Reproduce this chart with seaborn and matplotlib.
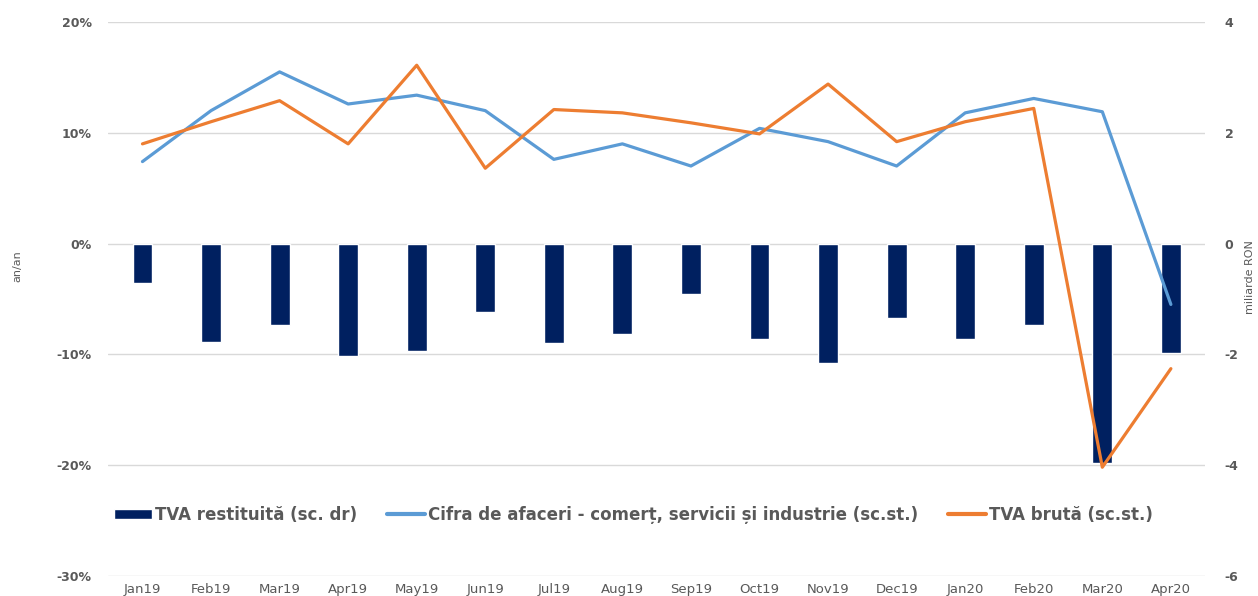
import matplotlib
matplotlib.use("Agg")
import matplotlib.pyplot as plt
from matplotlib.lines import Line2D
from matplotlib.patches import Patch
import seaborn as sns
import pandas as pd

# ------------------------------
# Data
# ------------------------------
months = ["Jan19", "Feb19", "Mar19", "Apr19", "May19", "Jun19", "Jul19", "Aug19",
          "Sep19", "Oct19", "Nov19", "Dec19", "Jan20", "Feb20", "Mar20", "Apr20"]

# TVA restituita, miliarde RON (right scale)
tva_restituita = [-0.72, -1.77, -1.48, -2.04, -1.95, -1.23, -1.79, -1.63,
                  -0.92, -1.73, -2.16, -1.34, -1.72, -1.48, -3.97, -1.98]

# Cifra de afaceri, % an/an (left scale)
cifra_afaceri = [7.4, 12.0, 15.5, 12.6, 13.4, 12.0, 7.6, 9.0,
                 7.0, 10.4, 9.2, 7.0, 11.8, 13.1, 11.9, -5.5]

# TVA bruta, % an/an (left scale)
tva_bruta = [9.0, 11.0, 12.9, 9.0, 16.1, 6.8, 12.1, 11.8,
             10.9, 9.9, 14.4, 9.2, 11.0, 12.2, -20.2, -11.3]

left_ticks = [-30, -20, -10, 0, 10, 20]
right_ticks = [-6, -4, -2, 0, 2, 4]

label_bar = "TVA restituită (sc. dr)"
label_cifra = "Cifra de afaceri - comerț, servicii și industrie (sc.st.)"
label_bruta = "TVA brută (sc.st.)"

NAVY = "#002060"
BLUE = "#5B9BD5"
ORANGE = "#ED7D31"
GREY = "#595959"

# ------------------------------
# Plot
# ------------------------------
sns.set_style("white")
plt.rcParams["font.family"] = ["DejaVu Sans"]

fig = plt.figure(figsize=(12.58, 5.96), dpi=100)
ax = fig.add_axes([0.086, 0.034, 0.872, 0.929])
ax2 = ax.twinx()

bars = pd.DataFrame({"month": months, "value": tva_restituita})
sns.barplot(data=bars, x="month", y="value", color=NAVY, width=0.29,
            saturation=1, ax=ax2)

lines = pd.DataFrame({"month": months + months,
                      "value": cifra_afaceri + tva_bruta,
                      "series": [label_cifra] * len(months) + [label_bruta] * len(months)})
sns.lineplot(data=lines, x="month", y="value", hue="series", sort=False,
             palette={label_cifra: BLUE, label_bruta: ORANGE},
             linewidth=2.3, legend=False, ax=ax)

# lines above bars
ax.set_zorder(ax2.get_zorder() + 1)
ax.patch.set_visible(False)

ax.set_xlim(-0.5, len(months) - 0.5)
ax.set_ylim(-30, 20)
ax2.set_ylim(-6, 4)
ax.set_yticks(left_ticks)
ax.set_yticklabels([f"{t}%" for t in left_ticks], fontsize=9, fontweight="bold", color=GREY)
ax2.set_yticks(right_ticks)
ax2.set_yticklabels([str(t) for t in right_ticks], fontsize=9, fontweight="bold", color=GREY)

# gridlines on the bar axis so bars sit on top of them
ax.yaxis.grid(False)
ax.xaxis.grid(False)
ax2.set_axisbelow(True)
ax2.yaxis.grid(True, color="#D9D9D9", linewidth=1)
ax2.xaxis.grid(False)
ax.set_xlabel("")
ax2.set_xlabel("")
ax.set_ylabel("an/an", fontsize=8, color=GREY)
ax.yaxis.set_label_coords(-0.078, 0.56)
ax2.set_ylabel("miliarde RON", fontsize=8, color=GREY)
ax2.yaxis.set_label_coords(1.036, 0.54)

for a in (ax, ax2):
    for s in a.spines.values():
        s.set_visible(False)
    a.tick_params(axis="both", length=0)
ax.tick_params(axis="y", pad=12)
ax2.tick_params(axis="y", pad=14)
ax.tick_params(axis="x", labelsize=9.5, labelcolor=GREY, pad=5)

handles = [Patch(facecolor=NAVY, label=label_bar),
           Line2D([], [], color=BLUE, linewidth=3, label=label_cifra),
           Line2D([], [], color=ORANGE, linewidth=3, label=label_bruta)]
leg = ax.legend(handles=handles, loc="center", bbox_to_anchor=(0.479, 0.11), ncol=3,
                frameon=False, handlelength=2.25, handleheight=0.55, handletextpad=0.2,
                columnspacing=1.8, prop={"size": 12, "weight": "bold"})
for t in leg.get_texts():
    t.set_color(GREY)

fig.savefig("out.png", dpi=100)
